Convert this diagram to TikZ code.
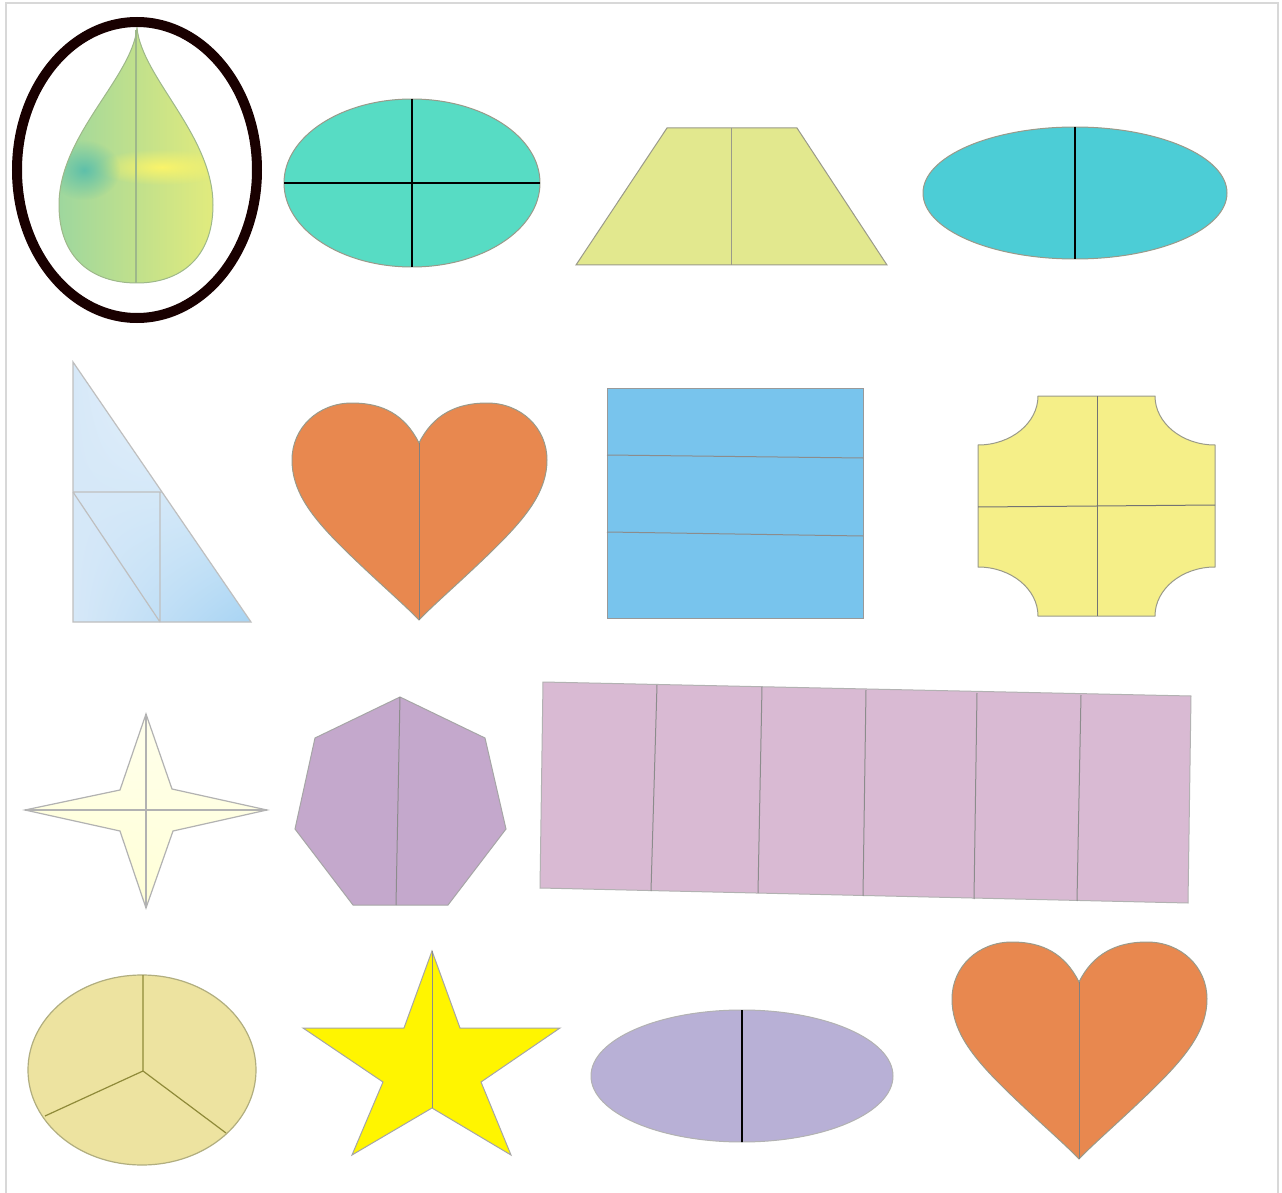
\documentclass[tikz,border=0pt]{standalone}
\usetikzlibrary{shapes.geometric,shadings,fadings}
\definecolor{frameg}{HTML}{D8D8D8}
\definecolor{tealA}{HTML}{57DCC4}
\definecolor{trapY}{HTML}{E2E88E}
\definecolor{cyanB}{HTML}{4CCDD6}
\definecolor{heartO}{HTML}{E8884F}
\definecolor{blueR}{HTML}{78C4ED}
\definecolor{octY}{HTML}{F5EF88}
\definecolor{heptP}{HTML}{C4A8CC}
\definecolor{rectP}{HTML}{D9BAD3}
\definecolor{pieY}{HTML}{EDE3A0}
\definecolor{starY}{HTML}{FFF500}
\definecolor{lavE}{HTML}{B8B0D6}
\definecolor{edgeg}{HTML}{9A9A8A}
\definecolor{dropL}{HTML}{9AD6A0}
\definecolor{dropM}{HTML}{C0E08C}
\definecolor{dropR}{HTML}{E4EC7C}
\definecolor{dropSpot}{HTML}{5EC0AA}
\definecolor{dropYel}{HTML}{FAF46A}
\definecolor{dropEdge}{HTML}{9EB88A}
\definecolor{triA}{HTML}{D6E8F8}
\definecolor{triB}{HTML}{A8D4F3}
\tikzfading[name=spotfade, inner color=transparent!0, outer color=transparent!100]
\tikzset{
  shapeedge/.style={draw=edgeg, line width=0.5pt},
  divline/.style={draw=#1, line width=0.5pt},
  blackdiv/.style={draw=black, line width=1pt},
}
\def\droppath{(137,28) .. controls (142,78) and (213,135) .. (213,205)
  .. controls (213,258) and (180,283) .. (137,283)
  .. controls (92,283) and (59,258) .. (59,205)
  .. controls (59,135) and (132,78) .. (137,28) -- cycle}
\def\heartpath{(419,443) .. controls (405,415) and (383,403) .. (352,403)
  .. controls (318,403) and (292,428) .. (292,460)
  .. controls (292,490) and (310,515) .. (340,545)
  .. controls (370,575) and (405,605) .. (419,620)
  .. controls (433,605) and (468,575) .. (498,545)
  .. controls (528,515) and (547,490) .. (547,460)
  .. controls (547,428) and (521,403) .. (487,403)
  .. controls (456,403) and (433,415) .. (419,443) -- cycle}
\begin{document}
\begin{tikzpicture}[x=0.5pt, y=-0.5pt]
\useasboundingbox (0,0) rectangle (1282,1193);
\fill[white] (0,0) rectangle (1282,1193);
% frame
\draw[frameg, line width=1pt] (6,1193) -- (6,3) -- (1278,3) -- (1278,1193);

% 1 drop in black ring
\begin{scope}
\clip \droppath;
\shade[left color=dropL, right color=dropR, middle color=dropM] (50,20) rectangle (220,290);
\fill[dropYel, path fading=spotfade] (162,167) ellipse [x radius=68, y radius=18];
\fill[dropSpot, path fading=spotfade] (84,170) ellipse [x radius=36, y radius=30];
\end{scope}
\draw[dropEdge, line width=0.5pt] \droppath;
\draw[dropEdge, line width=0.7pt] (136,30) -- (136,283);
\draw[black!90!red, line width=5pt] (137,170) ellipse [x radius=120, y radius=148];

% 2 teal ellipse with cross
\draw[fill=tealA, shapeedge] (412,183) ellipse [x radius=128, y radius=84];
\draw[blackdiv] (412,99) -- (412,267);
\draw[blackdiv] (284,183) -- (540,183);

% 3 trapezoid
\draw[fill=trapY, shapeedge] (667,128) -- (797,128) -- (887,265) -- (576,265) -- cycle;
\draw[divline=edgeg] (731,128) -- (731,265);

% 4 cyan ellipse
\draw[fill=cyanB, shapeedge] (1075,193) ellipse [x radius=152, y radius=66];
\draw[blackdiv] (1075,127) -- (1075,259);

% 5 triangle
\shade[upper left=triA, upper right=white, lower left=triA, lower right=triB]
  (73,362) -- (251,622) -- (73,622) -- cycle;
\draw[draw=black!25, line width=0.6pt] (73,362) -- (251,622) -- (73,622) -- cycle;
\draw[draw=black!25, line width=0.6pt] (73,492) -- (162,492) (160,492) -- (160,622) (73,492) -- (160,622);

% 6 heart
\draw[fill=heartO, shapeedge] \heartpath;
\draw[divline=black!50] (419,443) -- (419,620);

% 7 blue rectangle
\draw[fill=blueR, draw=black!40, line width=0.5pt] (607,388) rectangle (863,618);
\draw[divline=black!45] (607,455) -- (863,458);
\draw[divline=black!45] (607,532) -- (863,536);

% 8 octagon with concave corners
\draw[fill=octY, shapeedge]
  (1038,396) -- (1155,396)
  .. controls (1155,423) and (1182,445) .. (1215,445)
  -- (1215,567)
  .. controls (1182,567) and (1155,589) .. (1155,616)
  -- (1038,616)
  .. controls (1038,589) and (1011,567) .. (978,567)
  -- (978,445)
  .. controls (1011,445) and (1038,423) .. (1038,396) -- cycle;
\draw[divline=black!55] (1097,396) -- (1097,616);
\draw[divline=black!55] (978,507) -- (1215,505);

% 9 four-point star
\shade[upper left=yellow!5, upper right=yellow!10, lower left=yellow!20, lower right=yellow!12, draw=black!30, line width=0.6pt]
  (146,714) -- (172,789) -- (267,810) -- (173,831) -- (146,908) -- (120,831) -- (25,810) -- (120,790) -- cycle;
\draw[draw=black!30, line width=0.6pt] (146,714) -- (146,908) (25,810) -- (267,810);

% 10 heptagon
\draw[fill=heptP, draw=black!35, line width=0.5pt]
  (400,697) -- (485,738) -- (506,829) -- (448,905) -- (353,905) -- (295,829) -- (315,738) -- cycle;
\draw[divline=black!45] (400,697) -- (396,905);

% 11 rotated purple rectangle
\draw[fill=rectP, draw=black!30, line width=0.5pt]
  (543,682) -- (1191,696) -- (1188,903) -- (540,888) -- cycle;
\foreach \a/\b/\c/\d in {657/685/651/891, 762/687/758/893, 866/690/863/896, 977/693/974/899, 1081/695/1077/901}
  \draw[divline=black!45] (\a,\b) -- (\c,\d);

% 12 pie
\draw[fill=pieY, draw=olive!40!gray!70, line width=0.6pt] (142,1070) ellipse [x radius=114, y radius=95];
\draw[draw=olive!60!gray, line width=0.6pt] (143,975) -- (143,1071) -- (45,1116) (143,1071) -- (226,1133);

% 13 five-point star
\draw[fill=starY, draw=black!35, line width=0.5pt]
  (432,951) -- (460,1028) -- (560,1028) -- (481,1082) -- (511,1155) -- (432,1108)
  -- (352,1155) -- (383,1082) -- (303,1028) -- (404,1028) -- cycle;
\draw[divline=black!45] (432,951) -- (432,1108);

% 14 lavender ellipse
\draw[fill=lavE, draw=black!30, line width=0.5pt] (742,1076) ellipse [x radius=151, y radius=66];
\draw[blackdiv] (742,1010) -- (742,1142);

% 15 heart bottom right
\begin{scope}[shift={(660,539)}]
\draw[fill=heartO, shapeedge] \heartpath;
\draw[divline=black!50] (419,443) -- (419,620);
\end{scope}
\end{tikzpicture}
\end{document}
